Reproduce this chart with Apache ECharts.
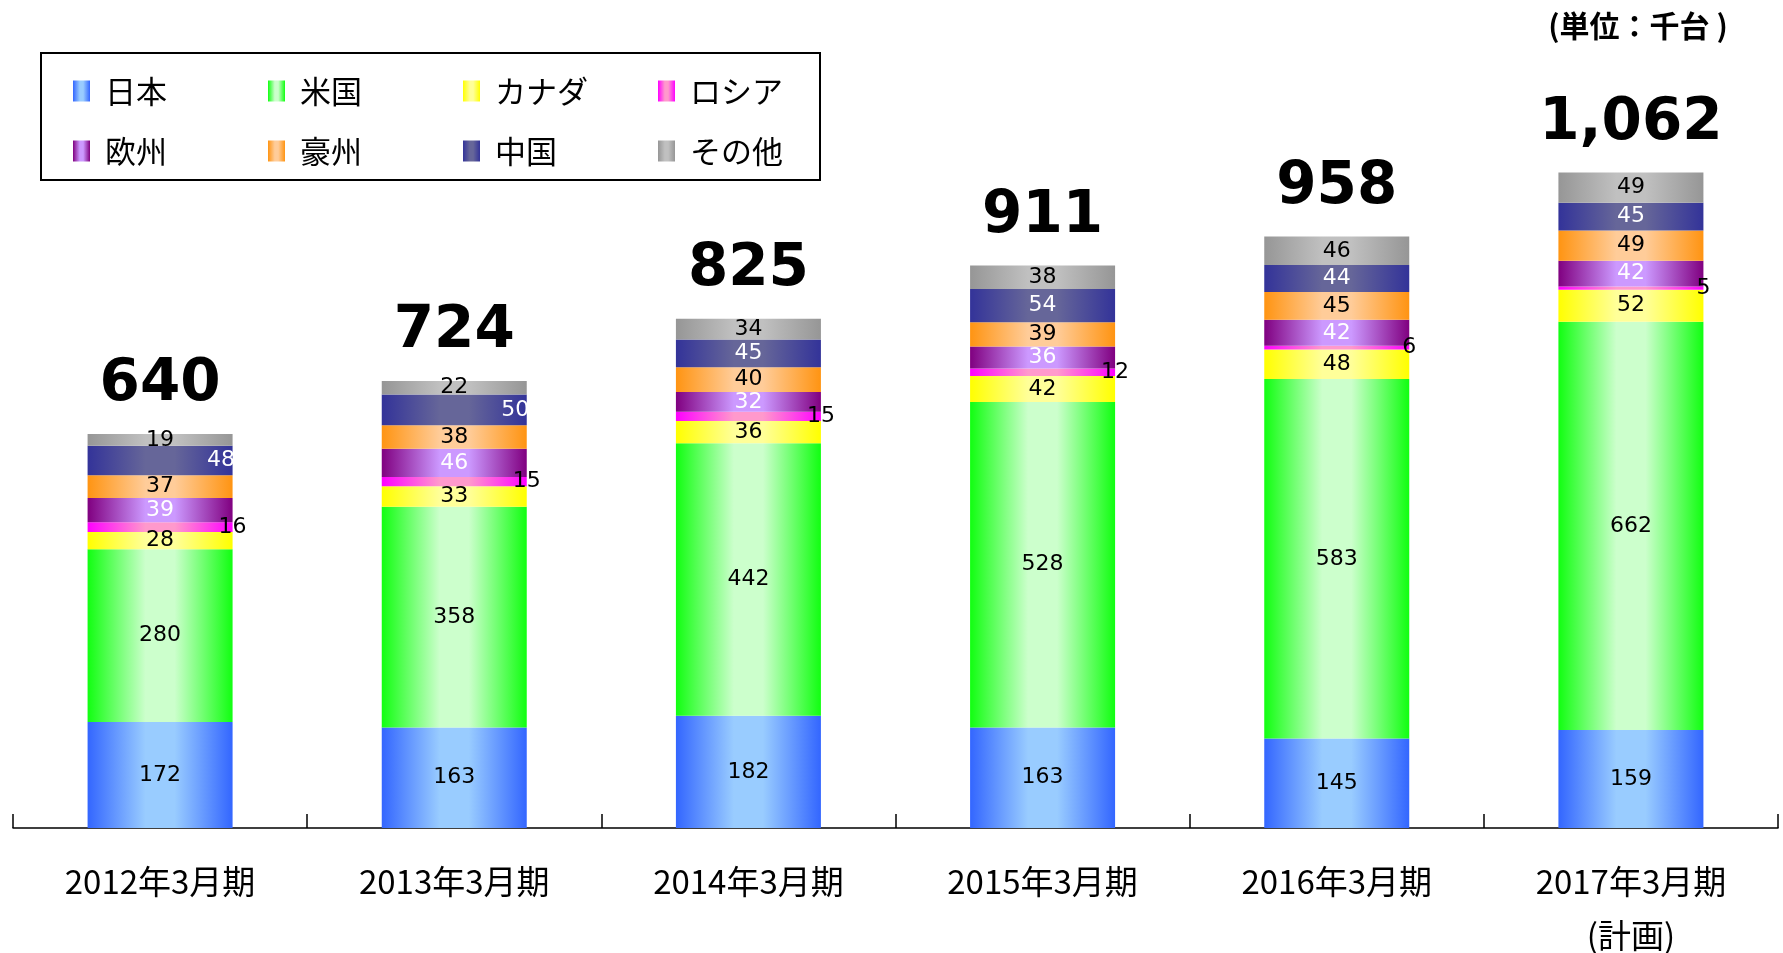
<!DOCTYPE html>
<html>
<head>
<meta charset="utf-8">
<script src="https://cdn.jsdelivr.net/npm/echarts@6/dist/echarts.min.js"></script>
<style>
  html, body { margin: 0; padding: 0; background: #fff; }
  #chart { width: 1783px; height: 953px; }
</style>
</head>
<body>
<div id="chart"></div>
<script>
const categories = ['2012年3月期', '2013年3月期', '2014年3月期', '2015年3月期', '2016年3月期', '2017年3月期\n(計画)']
const japan = [172, 163, 182, 163, 145, 159]
const usa = [280, 358, 442, 528, 583, 662]
const canada = [28, 33, 36, 42, 48, 52]
const russia = [16, 15, 15, 12, 6, 5]
const europe = [39, 46, 32, 36, 42, 42]
const australia = [37, 38, 40, 39, 45, 49]
const china = [48, 50, 45, 54, 44, 45]
const others = [19, 22, 34, 38, 46, 49]
const totals = [640, 724, 825, 911, 958, 1062]

const grad = (edge, center) => ({
  type: 'linear', x: 0, y: 0, x2: 1, y2: 0,
  colorStops: [
    { offset: 0, color: edge },
    { offset: 0.4, color: center },
    { offset: 0.6, color: center },
    { offset: 1, color: edge }
  ]
})

const numFont = 'DejaVu Sans'
const cjkFont = '"Noto Sans CJK JP", sans-serif'

const seriesDefs = [
  { name: '日本', data: japan, color: grad('#3366ff', '#99ccff'), text: '#000' },
  { name: '米国', data: usa, color: grad('#11ff11', '#ccffcc'), text: '#000' },
  { name: 'カナダ', data: canada, color: grad('#ffff00', '#ffff99'), text: '#000' },
  { name: 'ロシア', data: russia, color: grad('#ff00ff', '#ff99cc'), text: '#000', edge: true },
  { name: '欧州', data: europe, color: grad('#800080', '#cc99ff'), text: '#fff' },
  { name: '豪州', data: australia, color: grad('#ff9412', '#ffcc99'), text: '#000' },
  { name: '中国', data: china, color: grad('#333399', '#666699'), text: '#fff', nearEdge: [0, 1] },
  { name: 'その他', data: others, color: grad('#969696', '#c0c0c0'), text: '#000' }
]

const series = seriesDefs.map(s => ({
  name: s.name,
  type: 'bar',
  stack: 'total',
  barWidth: 145,
  itemStyle: { color: s.color },
  label: {
    show: true,
    position: s.edge ? ['100%', '50%'] : 'inside',
    align: 'center',
    verticalAlign: 'middle',
    color: s.text,
    fontFamily: numFont,
    fontSize: 22
  },
  data: s.data.map((v, i) => {
    if (s.nearEdge && s.nearEdge.includes(i)) {
      return { value: v, label: { position: ['92%', '50%'] } }
    }
    return v
  })
}))

// totals sit on top of the stack as an empty bar with a label
series.push({
  name: 'total',
  type: 'bar',
  stack: 'total',
  barWidth: 145,
  data: totals.map(() => 0),
  itemStyle: { color: 'transparent' },
  label: {
    show: true,
    position: 'top',
    distance: 20,
    fontFamily: numFont,
    fontWeight: 'bold',
    fontSize: 58,
    color: '#000',
    formatter: p => totals[p.dataIndex].toLocaleString('en-US')
  }
})

const legendBase = {
  orient: 'horizontal',
  left: 73,
  padding: 0,
  itemWidth: 17,
  itemHeight: 21,
  itemGap: 13,
  icon: 'rect',
  textStyle: {
    fontFamily: cjkFont,
    fontSize: 31,
    color: '#000',
    width: 150,
    lineHeight: 36,
    padding: [0, 0, 0, 10]
  }
}

const chart = echarts.init(document.getElementById('chart'))
chart.setOption({
  animation: false,
  backgroundColor: '#fff',
  grid: { left: 13, right: 5, top: 88, bottom: 125, outerBoundsMode: 'none', containLabel: false },
  legend: [
    Object.assign({}, legendBase, { top: 73, data: ['日本', '米国', 'カナダ', 'ロシア'] }),
    Object.assign({}, legendBase, { top: 133, data: ['欧州', '豪州', '中国', 'その他'] })
  ],
  graphic: [
    {
      type: 'rect',
      shape: { x: 41, y: 53, width: 779, height: 127 },
      style: { fill: 'none', stroke: '#000', lineWidth: 2 },
      z: 100
    },
    {
      type: 'text',
      x: 1638,
      y: 26,
      style: {
        text: '(単位：千台 )',
        font: 'bold 30px "Noto Sans CJK JP"',
        fill: '#000',
        align: 'center',
        verticalAlign: 'middle'
      }
    }
  ],
  xAxis: {
    type: 'category',
    data: categories,
    axisLine: { lineStyle: { color: '#000', width: 1.5 } },
    axisTick: { show: true, inside: true, length: 14, lineStyle: { color: '#000', width: 1.5 } },
    axisLabel: {
      fontFamily: cjkFont,
      fontSize: 33,
      color: '#000',
      lineHeight: 54,
      margin: 26
    }
  },
  yAxis: {
    type: 'value',
    min: 0,
    max: 1200,
    show: false,
    splitLine: { show: false }
  },
  series: series
})
</script>
</body>
</html>
